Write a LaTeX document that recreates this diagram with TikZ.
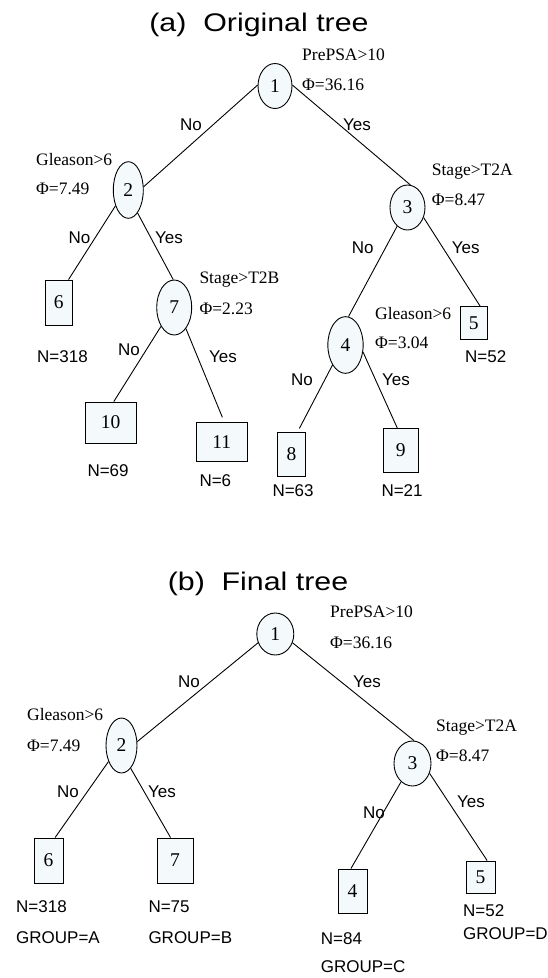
\documentclass[tikz,border=0pt]{standalone}
\usepackage{fontspec}
\setmainfont{Liberation Serif}
\newfontfamily\sansf{Liberation Sans}
\usetikzlibrary{shapes.geometric}
\definecolor{nfill}{RGB}{244,250,252}
\tikzset{
 split/.style={ellipse, draw, fill=nfill, line width=0.9pt, inner sep=0pt, font=\fontsize{19.5}{22}\selectfont},
 leaf/.style={rectangle, draw, fill=nfill, line width=0.9pt, inner sep=0pt, font=\fontsize{19.5}{22}\selectfont},
 cond/.style={anchor=base west, inner sep=0pt, font=\fontsize{17.5}{20}\selectfont},
 lab/.style={anchor=base west, inner sep=0pt, font=\sansf\fontsize{17}{20}\selectfont},
 ttl/.style={anchor=base, inner sep=0pt, font=\sansf\fontsize{25.5}{30}\selectfont},
 edge/.style={line width=0.9pt}
}
\begin{document}
\begin{tikzpicture}[x=1pt,y=-1pt]
\useasboundingbox (0,0) rectangle (548,978);
% ---------- (a) ----------
\node[ttl] (ta) at (259,31.5) {\scalebox{1.19}[1]{(a)\ \ Original tree}};
\node[split, minimum width=34pt, minimum height=45pt] (a1) at (275,86) {1};
\node[split, minimum width=30pt, minimum height=56.6pt] (a2) at (128.3,190) {2};
\node[split, minimum width=35pt, minimum height=45pt] (a3) at (407.5,207.5) {3};
\node[split, minimum width=35pt, minimum height=55pt] (a7) at (174.2,307.5) {7};
\node[split, minimum width=35.3pt, minimum height=56.7pt] (a4) at (345.5,345) {4};
\node[leaf, minimum width=27.7pt, minimum height=45pt] (b6a) at (58.8,302.5) {6};
\node[leaf, minimum width=27.3pt, minimum height=32.7pt] (b5a) at (473.7,323) {5};
\node[leaf, minimum width=51pt, minimum height=41pt] (b10a) at (110.5,422.5) {10};
\node[leaf, minimum width=51.3pt, minimum height=38.3pt] (b11a) at (221.7,442) {11};
\node[leaf, minimum width=28.3pt, minimum height=44.3pt] (b8a) at (291.5,454.5) {8};
\node[leaf, minimum width=35pt, minimum height=44.3pt] (b9a) at (400.8,450.5) {9};

\draw[edge] (a1.177) -- (a2.12);
\draw[edge] (a1.3) -- (a3.83);
\draw[edge] (a2.231) -- (b6a.67);
\draw[edge] (a2.292) -- (a7.92);
\draw[edge] (a7.235) -- (b10a.81);
\draw[edge, shorten >=5.5pt] (a7.299) -- (b11a.82);
\draw[edge] (a3.241) -- (a4.84);
\draw[edge] (a3.328) -- (b5a.69);
\draw[edge, shorten >=4pt] (a4.237) -- (b8a.75);
\draw[edge] (a4.338) -- (b9a.99);

\node[cond] (ca1) at (302,60) {PrePSA>10};
\node[cond] (pa1) at (302,90) {Φ=36.16};
\node[cond] (ca2) at (36,165) {Gleason>6};
\node[cond] (pa2) at (36,194.5) {Φ=7.49};
\node[cond] (ca7) at (199.3,283.5) {Stage>T2B};
\node[cond] (pa7) at (199.3,314) {Φ=2.23};
\node[cond] (ca3) at (431.7,175) {Stage>T2A};
\node[cond] (pa3) at (431.7,205) {Φ=8.47};
\node[cond] (ca4) at (375,319) {Gleason>6};
\node[cond] (pa4) at (375,348.5) {Φ=3.04};

\node[lab] (la1n) at (180,130) {No};
\node[lab] (la1y) at (343,130) {Yes};
\node[lab] (la2n) at (68.3,243.5) {No};
\node[lab] (la2y) at (155,243.5) {Yes};
\node[lab] (la7n) at (118,355) {No};
\node[lab] (la7y) at (209,362.7) {Yes};
\node[lab] (la3n) at (351.7,253) {No};
\node[lab] (la3y) at (451.7,253) {Yes};
\node[lab] (la4n) at (291,385) {No};
\node[lab] (la4y) at (382,385) {Yes};
\node[lab] (na6) at (37,362.7) {N=318};
\node[lab] (na5) at (465,362.7) {N=52};
\node[lab] (na10) at (87.3,476) {N=69};
\node[lab] (na11) at (199.3,486) {N=6};
\node[lab] (na8) at (272.3,496) {N=63};
\node[lab] (na9) at (381.3,496) {N=21};

% ---------- (b) ----------
\node[ttl] (tb) at (258,590) {\scalebox{1.19}[1]{(b)\ \ Final tree}};
\node[split, minimum width=37pt, minimum height=42pt] (n1b) at (275.3,634) {1};
\node[split, minimum width=31pt, minimum height=55pt] (n2b) at (121.5,745.5) {2};
\node[split, minimum width=37pt, minimum height=45pt] (n3b) at (412.5,763.5) {3};
\node[leaf, minimum width=29pt, minimum height=45pt] (b6b) at (48.5,860.5) {6};
\node[leaf, minimum width=36pt, minimum height=45pt] (b7b) at (175,860.5) {7};
\node[leaf, minimum width=29pt, minimum height=44pt] (b4b) at (352.5,891) {4};
\node[leaf, minimum width=29pt, minimum height=32pt] (b5b) at (480.5,877) {5};

\draw[edge] (n1b.207) -- (n2b.14);
\draw[edge] (n1b.333) -- (n3b.86);
\draw[edge] (n2b.231) -- (b6b.74);
\draw[edge] (n2b.292) -- (b7b.101);
\draw[edge] (n3b.238) -- (b4b.94);
\draw[edge] (n3b.330) -- (b5b.68);

\node[cond] (cb1) at (330,617.5) {PrePSA>10};
\node[cond] (pb1) at (330,648) {Φ=36.16};
\node[cond] (cb2) at (27,720.7) {Gleason>6};
\node[cond] (pb2) at (27,751.5) {Φ=7.49};
\node[cond] (cb3) at (436,731.5) {Stage>T2A};
\node[cond] (pb3) at (436,761.5) {Φ=8.47};

\node[lab] (lb1n) at (178,687) {No};
\node[lab] (lb1y) at (353,687) {Yes};
\node[lab] (lb2n) at (57,797) {No};
\node[lab] (lb2y) at (148,797) {Yes};
\node[lab] (lb3n) at (363,818) {No};
\node[lab] (lb3y) at (457,807) {Yes};
\node[lab] (nb6) at (16,912.5) {N=318};
\node[lab] (gb6) at (16,943) {GROUP=A};
\node[lab] (nb7) at (148.3,912.5) {N=75};
\node[lab] (gb7) at (148.3,943) {GROUP=B};
\node[lab] (nb4) at (320.7,944) {N=84};
\node[lab] (gb4) at (320.7,972.5) {GROUP=C};
\node[lab] (nb5) at (463,916.5) {N=52};
\node[lab] (gb5) at (463,939) {GROUP=D};
\end{tikzpicture}
\end{document}
